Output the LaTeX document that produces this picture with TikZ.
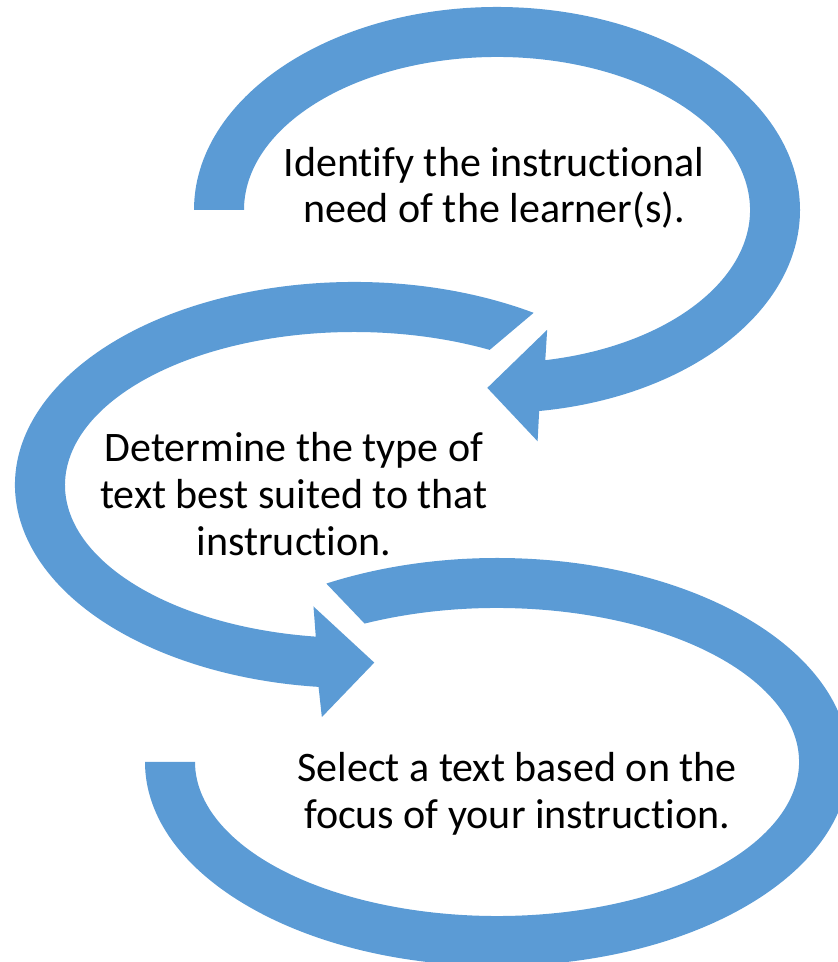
\documentclass[tikz,border=0pt]{standalone}
\usepackage{fontspec}
\setmainfont{Carlito}[Ligatures={NoCommon}]
\definecolor{cycleblue}{RGB}{91,155,213}

\begin{document}
\begin{tikzpicture}[x=0.5pt, y=0.5pt,
	cyclearrow/.style={fill=cycleblue},
	steptext/.style={align=center, inner sep=0pt, font=\fontsize{21}{23.3}\selectfont}]
	\useasboundingbox (0,0) rectangle (837,962);
	
	\fill[cyclearrow, shift={(497,752)}] (180:303 and 203) arc[start angle=180, end angle=-82, x radius=303, y radius=203]
		-- (-83:333 and 233) -- (-92:278 and 178) -- (-77:223 and 123) -- (-79:253 and 153)
		arc[start angle=-79, end angle=180, x radius=253, y radius=153] -- cycle;
	\fill[cyclearrow, shift={(354,477)}] (58:339 and 203) arc[start angle=58, end angle=264, x radius=339, y radius=203]
		-- (265:369 and 233) -- (273.7:314 and 178) -- (261:259 and 123) -- (262.4:289 and 153)
		arc[start angle=262.4, end angle=62, x radius=289, y radius=153] -- cycle;
	\fill[cyclearrow, shift={(497,200)}] (180:352 and 204) arc[start angle=180, end angle=479, x radius=352, y radius=204]
		-- (476:302 and 154) arc[start angle=476, end angle=180, x radius=302, y radius=154] -- cycle;
	
	\node[steptext] (need) at (494,774) {Identify the instructional\\need of the learner(s).};
	\node[steptext] (type) at (294,468) {Determine the type of\\text best suited to that\\instruction.};
	\node[steptext] (focus) at (517,168) {Select a text based on the\\focus of your instruction.};
\end{tikzpicture}
\end{document}
